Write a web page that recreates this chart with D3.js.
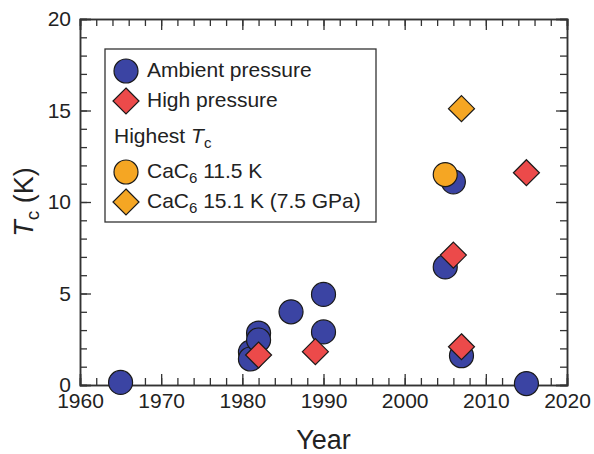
<!DOCTYPE html>
<html>
<head>
<meta charset="utf-8">
<script src="https://cdn.jsdelivr.net/npm/d3@7"></script>
<style>
  html, body { margin: 0; padding: 0; background: #fff; }
  svg { display: block; font-family: "Liberation Sans", Arial, Helvetica, sans-serif; }
</style>
</head>
<body>
<svg id="chart" width="594" height="454"></svg>
<script>
// Superconducting transition temperatures of graphite intercalation compounds
const ambientYears = [1965, 1981, 1981, 1982, 1982, 1986, 1990, 1990, 2005, 2006, 2007, 2015];
const ambientTc    = [0.14, 1.8, 1.42, 2.84, 2.46, 4.0, 4.95, 2.9, 6.45, 11.1, 1.6, 0.08];

const highYears = [1982, 1989, 2006, 2007, 2015];
const highTc    = [1.64, 1.82, 7.1, 2.09, 11.6];

// CaC6 record values
const recordAmbient = { year: 2005, tc: 11.5 };
const recordHigh    = { year: 2007, tc: 15.1 };

const xMajorTicks = [1960, 1970, 1980, 1990, 2000, 2010, 2020];
const yMajorTicks = [0, 5, 10, 15, 20];

const colors = { ambient: "#3b44a3", high: "#ec4a4a", record: "#f5a623", stroke: "#1a1a1a", axis: "#333" };

const svg = d3.select("#chart");
const plotLeft = 80, plotRight = 567, plotTop = 19, plotBottom = 385;

const x = d3.scaleLinear().domain([1960, 2020]).range([plotLeft, plotRight]);
const y = d3.scaleLinear().domain([0, 20]).range([plotBottom, plotTop]);

const R = 12;       // marker circle radius
const D = 13;       // diamond half-diagonal

// ---- axes (ticks point inward on all four sides) ----
const xMinor = d3.range(1960, 2021, 2);
const yMinor = d3.range(0, 21, 1);
const fontSize = 21;

function styleAxis(g) {
  g.select(".domain").attr("stroke", colors.axis).attr("stroke-width", 1.5);
  g.selectAll(".tick line").attr("stroke", colors.axis).attr("stroke-width", 1.3);
  g.selectAll(".tick text").attr("fill", "#222").style("font-size", fontSize + "px")
    .style("font-family", "'Liberation Sans', Arial, sans-serif");
}

// bottom
svg.append("g").attr("transform", `translate(0,${plotBottom})`)
  .call(d3.axisBottom(x).tickValues(xMinor).tickSize(-7).tickFormat(""))
  .call(styleAxis);
svg.append("g").attr("transform", `translate(0,${plotBottom})`)
  .call(d3.axisBottom(x).tickValues(xMajorTicks).tickSize(-11).tickPadding(8).tickFormat(d3.format("d")))
  .call(styleAxis);
// top
svg.append("g").attr("transform", `translate(0,${plotTop})`)
  .call(d3.axisTop(x).tickValues(xMinor).tickSize(-7).tickFormat(""))
  .call(styleAxis);
svg.append("g").attr("transform", `translate(0,${plotTop})`)
  .call(d3.axisTop(x).tickValues(xMajorTicks).tickSize(-11).tickFormat(""))
  .call(styleAxis);
// left
svg.append("g").attr("transform", `translate(${plotLeft},0)`)
  .call(d3.axisLeft(y).tickValues(yMinor).tickSize(-7).tickFormat(""))
  .call(styleAxis);
svg.append("g").attr("transform", `translate(${plotLeft},0)`)
  .call(d3.axisLeft(y).tickValues(yMajorTicks).tickSize(-11).tickPadding(9).tickFormat(d3.format("d")))
  .call(styleAxis);
// right
svg.append("g").attr("transform", `translate(${plotRight},0)`)
  .call(d3.axisRight(y).tickValues(yMinor).tickSize(-7).tickFormat(""))
  .call(styleAxis);
svg.append("g").attr("transform", `translate(${plotRight},0)`)
  .call(d3.axisRight(y).tickValues(yMajorTicks).tickSize(-11).tickFormat(""))
  .call(styleAxis);

// axis titles
svg.append("text")
  .attr("x", (plotLeft + plotRight) / 2).attr("y", 449)
  .attr("text-anchor", "middle")
  .attr("fill", "#222").style("font-size", "27px")
  .text("Year");

const yTitle = svg.append("text")
  .attr("transform", `translate(33,${(plotTop + plotBottom) / 2}) rotate(-90)`)
  .attr("text-anchor", "middle")
  .attr("fill", "#222").style("font-size", "27px");
yTitle.append("tspan").style("font-style", "italic").text("T");
yTitle.append("tspan").attr("dy", 6).style("font-size", "19px").text("c");
yTitle.append("tspan").attr("dy", -6).text(" (K)");

// ---- markers ----
const diamond = (cx, cy, h) => `M${cx},${cy - h}L${cx + h},${cy}L${cx},${cy + h}L${cx - h},${cy}Z`;

const ambient = ambientYears.map((yr, i) => ({ year: yr, tc: ambientTc[i] }));
const high = highYears.map((yr, i) => ({ year: yr, tc: highTc[i] }));

const marks = svg.append("g");
marks.selectAll("circle.ambient").data(ambient).enter().append("circle")
  .attr("class", "ambient")
  .attr("cx", d => x(d.year)).attr("cy", d => y(d.tc)).attr("r", R)
  .attr("fill", colors.ambient).attr("stroke", colors.stroke).attr("stroke-width", 1.2);

marks.selectAll("path.high").data(high).enter().append("path")
  .attr("class", "high")
  .attr("d", d => diamond(x(d.year), y(d.tc), D))
  .attr("fill", colors.high).attr("stroke", colors.stroke).attr("stroke-width", 1.2);

marks.append("circle")
  .attr("cx", x(recordAmbient.year)).attr("cy", y(recordAmbient.tc)).attr("r", R)
  .attr("fill", colors.record).attr("stroke", colors.stroke).attr("stroke-width", 1.2);
marks.append("path")
  .attr("d", diamond(x(recordHigh.year), y(recordHigh.tc), D))
  .attr("fill", colors.record).attr("stroke", colors.stroke).attr("stroke-width", 1.2);

// ---- legend ----
const lg = svg.append("g");
lg.append("rect").attr("x", 105).attr("y", 49).attr("width", 271).attr("height", 173)
  .attr("fill", "#fff").attr("stroke", colors.axis).attr("stroke-width", 1.3);

const lx = 126, tx = 147;
lg.append("circle").attr("cx", lx).attr("cy", 71).attr("r", R)
  .attr("fill", colors.ambient).attr("stroke", colors.stroke).attr("stroke-width", 1.2);
lg.append("path").attr("d", diamond(lx, 101, D))
  .attr("fill", colors.high).attr("stroke", colors.stroke).attr("stroke-width", 1.2);
lg.append("circle").attr("cx", lx).attr("cy", 172).attr("r", R)
  .attr("fill", colors.record).attr("stroke", colors.stroke).attr("stroke-width", 1.2);
lg.append("path").attr("d", diamond(lx, 202, D))
  .attr("fill", colors.record).attr("stroke", colors.stroke).attr("stroke-width", 1.2);

function legendText(xp, yp) {
  return lg.append("text").attr("x", xp).attr("y", yp)
    .attr("fill", "#222").style("font-size", fontSize + "px");
}
legendText(tx, 77).text("Ambient pressure");
legendText(tx, 107).text("High pressure");

const hi = legendText(114, 143);
hi.append("tspan").text("Highest ");
hi.append("tspan").style("font-style", "italic").text("T");
hi.append("tspan").attr("dy", 5).style("font-size", "15px").text("c");

function cac6(t, rest) {
  t.append("tspan").text("CaC");
  t.append("tspan").attr("dy", 5).style("font-size", "15px").text("6");
  t.append("tspan").attr("dy", -5).text(rest);
}
cac6(legendText(tx, 178), " " + recordAmbient.tc.toFixed(1) + " K");
cac6(legendText(tx, 208), " " + recordHigh.tc.toFixed(1) + " K (7.5 GPa)");
</script>
</body>
</html>
